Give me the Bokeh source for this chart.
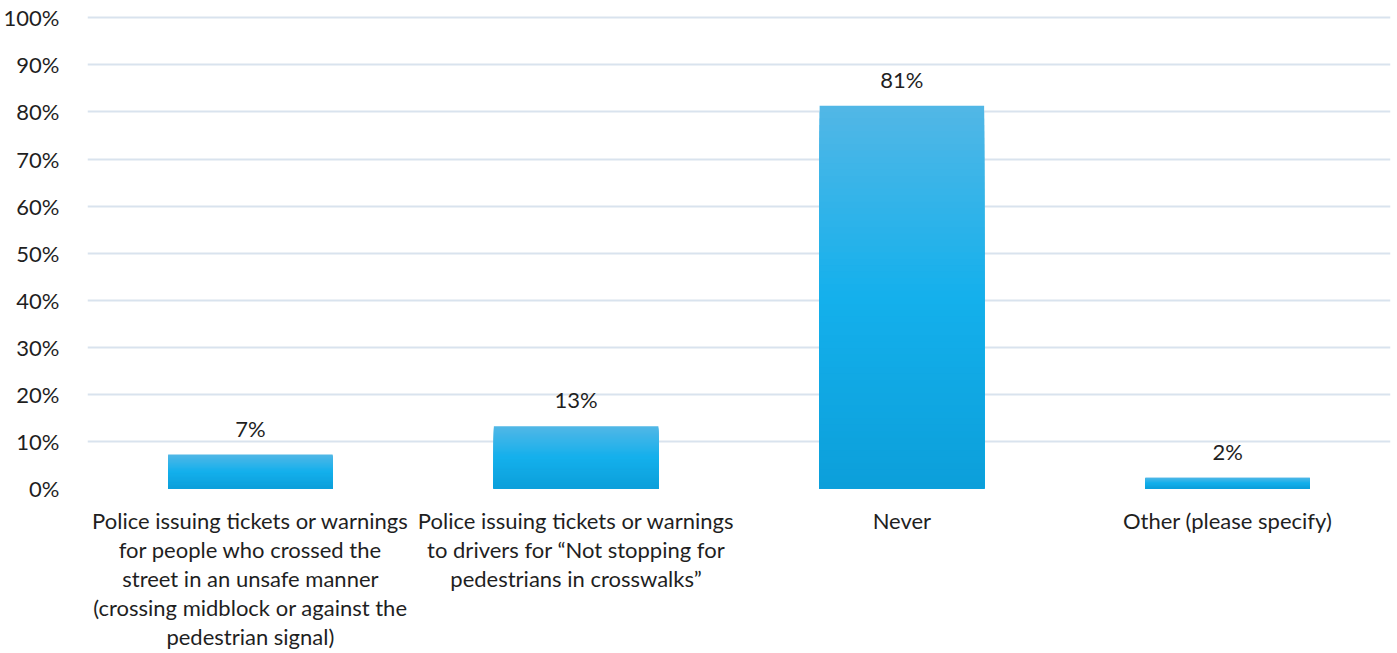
from bokeh.plotting import figure
from bokeh.models import ColumnDataSource, FixedTicker, Range1d
from bokeh.embed import file_html
from bokeh.resources import INLINE
from bokeh.core.properties import value

categories = [
    "Police issuing tickets or warnings\nfor people who crossed the\nstreet in an unsafe manner\n(crossing midblock or against the\npedestrian signal)",
    "Police issuing tickets or warnings\nto drivers for \u201cNot stopping for\npedestrians in crosswalks\u201d",
    "Never",
    "Other (please specify)",
]
values = [7.2, 13.2, 81.3, 2.3]
labels = ["7%", "13%", "81%", "2%"]
y_ticks = [0, 10, 20, 30, 40, 50, 60, 70, 80, 90, 100]
y_tick_labels = {t: f"{t}%" for t in y_ticks}

FONT = "Lato"
FS = "22px"
TXT = "#1f1f1f"

p = figure(x_range=categories, y_range=Range1d(0, 100.5), width=1397, height=653,
           output_backend="svg", toolbar_location=None,
           min_border_left=85, min_border_right=7, min_border_top=15, min_border_bottom=165)
p.outline_line_color = None

# gradient bars: overlapping slices relative to each bar's own height
def lerp(c1, c2, t):
    return tuple(int(round(a + (b - a) * t)) for a, b in zip(c1, c2))

top_c = (0x52, 0xB7, 0xE6)
mid_c = (0x14, 0xB0, 0xEC)
bot_c = (0x0C, 0x9F, 0xDA)
N = 60
xs, tops, cols = [], [], []
for cat, v in zip(categories, values):
    for i in reversed(range(N)):
        f1 = (i + 1) / N
        fm = (i + 0.5) / N
        if fm < 0.5:
            c = lerp(bot_c, mid_c, fm / 0.5)
        else:
            c = lerp(mid_c, top_c, (fm - 0.5) / 0.5)
        xs.append(cat)
        tops.append(v * f1)
        cols.append("#%02x%02x%02x" % c)

src = ColumnDataSource(dict(x=xs, top=tops, color=cols))
p.vbar(x="x", bottom=0, top="top", width=0.505, fill_color="color", line_color=None, source=src)

lab_src = ColumnDataSource(dict(x=categories, y=values, t=labels))
p.text(x="x", y="y", text="t", source=lab_src, text_align="center", text_baseline="bottom",
       y_offset=-13, text_font=value(FONT), text_font_size=FS, text_color=TXT)

p.yaxis.ticker = FixedTicker(ticks=y_ticks)
p.yaxis.major_label_overrides = y_tick_labels
p.yaxis.axis_line_color = None
p.yaxis.major_tick_line_color = None
p.yaxis.minor_tick_line_color = None
p.yaxis.major_label_text_font = FONT
p.yaxis.major_label_text_font_size = FS
p.yaxis.major_label_text_color = TXT
p.yaxis.major_label_standoff = 22

p.xaxis.axis_line_color = None
p.xaxis.major_tick_line_color = None
p.xaxis.minor_tick_line_color = None
p.xaxis.major_label_text_font = FONT
p.xaxis.major_label_text_font_size = FS
p.xaxis.major_label_text_color = TXT
p.xaxis.major_label_text_line_height = 1.08
p.xaxis.major_label_standoff = 12

p.xgrid.grid_line_color = None
p.ygrid.grid_line_color = "#D9E3EE"
p.ygrid.grid_line_width = 2
p.x_range.range_padding = 0

open("out.html", "w").write(file_html(p, INLINE))
